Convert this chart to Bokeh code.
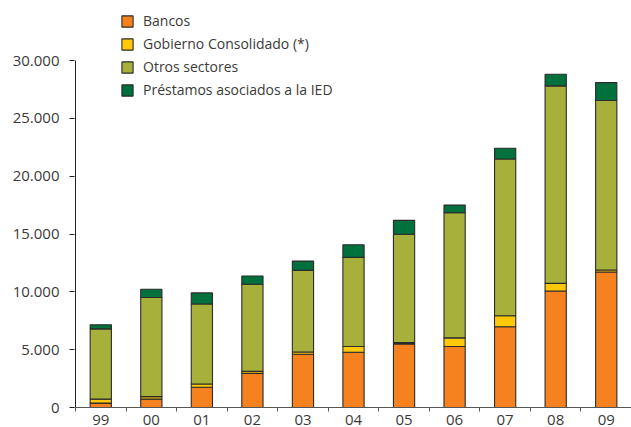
from bokeh.plotting import figure
from bokeh.models import ColumnDataSource, Range1d, FixedTicker, Legend, LegendItem
from bokeh.embed import file_html
from bokeh.resources import INLINE

years = ["99", "00", "01", "02", "03", "04", "05", "06", "07", "08", "09"]
bancos = [380, 720, 1750, 2950, 4600, 4780, 5500, 5270, 6980, 10070, 11720]
gobierno = [340, 220, 280, 170, 200, 490, 110, 750, 950, 660, 170]
otros = [6080, 8570, 6920, 7540, 7060, 7710, 9370, 10820, 13560, 17080, 14660]
ied = [350, 720, 960, 710, 800, 1090, 1200, 660, 920, 1000, 1540]

series = ["Bancos", "Gobierno Consolidado (*)", "Otros sectores", "Préstamos asociados a la IED"]
keys = ["bancos", "gobierno", "otros", "ied"]
colors = ["#F5821F", "#FFC90A", "#A7B03A", "#00703C"]

y_ticks = [0, 5000, 10000, 15000, 20000, 25000, 30000]
y_tick_labels = ["0", "5.000", "10.000", "15.000", "20.000", "25.000", "30.000"]

FONT = "Open Sans"
TXT = "#3a3a3a"

centers = [i + 0.5 for i in range(len(years))]
bounds = [i for i in range(len(years) + 1)]

src = ColumnDataSource(dict(x=centers, bancos=bancos, gobierno=gobierno, otros=otros, ied=ied))

# frame is extended above the top tick so the legend (drawn inside the frame) is not clipped
p = figure(width=631, height=427, output_backend="svg", toolbar_location=None,
           x_range=Range1d(-0.02, len(years)), y_range=Range1d(0, 35190),
           min_border_left=74, min_border_right=0, min_border_top=0, min_border_bottom=0)
p.outline_line_color = None
p.xgrid.visible = False
p.ygrid.visible = False

renderers = p.vbar_stack(keys, x="x", width=0.42, source=src, fill_color=colors,
                         line_color="#2b2b2b", line_width=1.1)

# y axis line only up to the top tick
p.segment(x0=[0], y0=[min(y_ticks)], x1=[0], y1=[max(y_ticks)], line_color="#222222", line_width=1)

# y axis
p.yaxis.ticker = FixedTicker(ticks=y_ticks, minor_ticks=[])
p.yaxis.major_label_overrides = {t: l for t, l in zip(y_ticks, y_tick_labels)}
p.yaxis.axis_line_color = None
p.yaxis.major_tick_line_color = "#222222"
p.yaxis.major_tick_out = 5
p.yaxis.major_tick_in = 0
p.yaxis.major_label_standoff = 10
p.yaxis.major_label_text_font = FONT
p.yaxis.major_label_text_font_size = "15px"
p.yaxis.major_label_text_color = TXT

# x axis: labels at centers, ticks at boundaries
p.xaxis.ticker = FixedTicker(ticks=centers, minor_ticks=bounds)
p.xaxis.major_label_overrides = {c: y for c, y in zip(centers, years)}
p.xaxis.axis_line_color = "#555555"
p.xaxis.major_tick_out = 0
p.xaxis.major_tick_in = 0
p.xaxis.minor_tick_out = 4
p.xaxis.minor_tick_in = 0
p.xaxis.minor_tick_line_color = "#555555"
p.xaxis.major_label_standoff = 3
p.xaxis.major_label_text_font = FONT
p.xaxis.major_label_text_font_size = "15px"
p.xaxis.major_label_text_color = TXT

legend = Legend(items=[LegendItem(label=s, renderers=[r]) for s, r in zip(series, renderers)],
                location=(46, 308), orientation="vertical",
                glyph_width=14, glyph_height=14, label_height=14, spacing=4,
                label_standoff=9, padding=0, margin=0,
                border_line_color=None, background_fill_alpha=0,
                label_text_font=FONT, label_text_font_size="14px", label_text_color=TXT)
p.add_layout(legend, "center")

open("out.html", "w").write(file_html(p, INLINE))
